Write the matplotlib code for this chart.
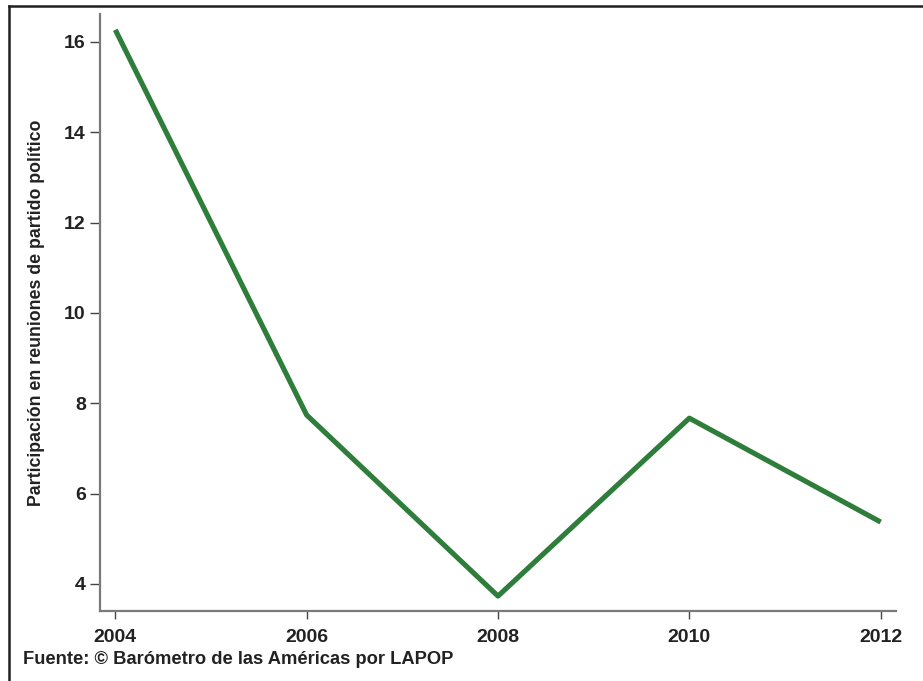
import matplotlib
matplotlib.use('Agg')
import matplotlib.pyplot as plt
from matplotlib.lines import Line2D

plt.rcParams['font.family'] = ['Liberation Sans', 'DejaVu Sans']

years = [2004, 2006, 2008, 2010, 2012]
participacion = [16.27, 7.74, 3.73, 7.67, 5.37]
yticks = [4, 6, 8, 10, 12, 14, 16]

W, H = 923, 681
fig = plt.figure(figsize=(W / 100, H / 100), dpi=100)
ax = fig.add_axes([100 / W, 1 - 611 / H, 796 / W, 597 / H])

ax.plot(years, participacion, color='#2e7d3a', linewidth=3.7, solid_capstyle='butt')

ax.set_xlim(2003.84, 2012.16)
ax.set_ylim(3.40, 16.62)
ax.set_xticks(years)
ax.set_yticks(yticks)

for side in ['top', 'right']:
    ax.spines[side].set_visible(False)
for side in ['left', 'bottom']:
    ax.spines[side].set_color('#7a7a7a')
    ax.spines[side].set_linewidth(1.6)

ax.tick_params(axis='both', direction='out', width=1.0, color='#444444', labelsize=14)
ax.tick_params(axis='y', length=7.2, pad=3)
ax.tick_params(axis='x', length=6, pad=7)
for lab in ax.get_xticklabels() + ax.get_yticklabels():
    lab.set_fontweight('bold')
    lab.set_color('#222222')

ax.set_ylabel('Participación en reuniones de partido político', fontsize=12.8,
              fontweight='bold', color='#222222')
ax.yaxis.set_label_coords((45 - 100) / 796, 0.5)

fig.text(23 / W, 1 - 660 / H, 'Fuente: © Barómetro de las Américas por LAPOP',
         fontsize=13.2, fontweight='bold', color='#222222', va='center', ha='left')

# frame lines (top and left) of the original panel
fig.add_artist(Line2D([9 / W, 1], [1 - 6 / H, 1 - 6 / H], color='#231f20', linewidth=1.8,
                      transform=fig.transFigure))
fig.add_artist(Line2D([9 / W, 9 / W], [0, 1 - 6 / H], color='#231f20', linewidth=1.8,
                      transform=fig.transFigure))

fig.savefig('out.png', dpi=100)
